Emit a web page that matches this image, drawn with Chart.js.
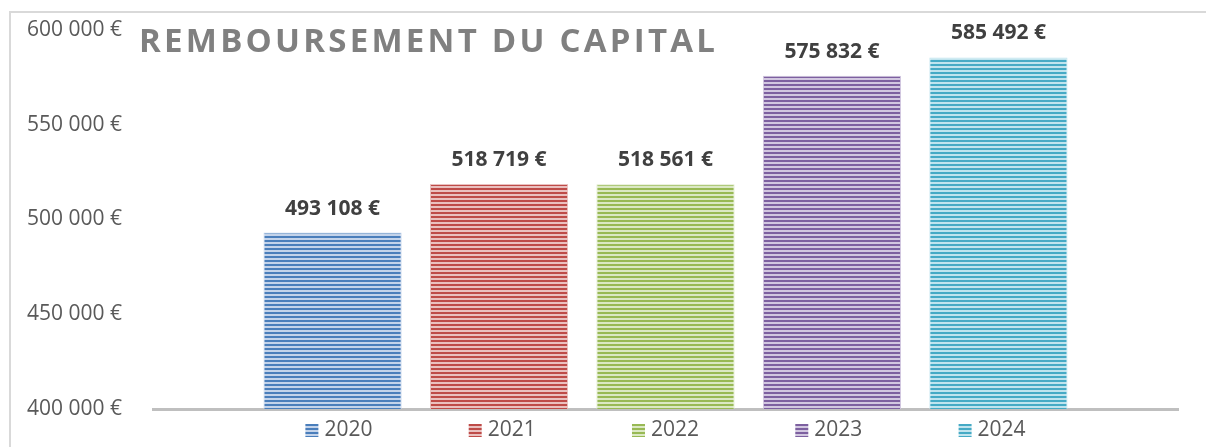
<!DOCTYPE html>
<html lang="fr">
<head>
  <meta charset="UTF-8" />
  <title>Remboursement du capital</title>
  <script src="https://cdn.jsdelivr.net/npm/chart.js"></script>
  <style>
    body {
      margin: 0;
      background: #fff;
    }

    .wrap {
      position: relative;
      width: 1206px;
      height: 447px;
    }

    .frame {
      position: absolute;
      left: 9px;
      top: 11px;
      right: 0;
      bottom: 0;
      border-top: 2px solid #d9d9d9;
      border-left: 2px solid #d9d9d9;
      pointer-events: none;
    }
  </style>
</head>
<body>
  <div class="wrap">
    <canvas id="capitalChart" width="1206" height="447"></canvas>
    <div class="frame"></div>
  </div>

  <script>
    const years = ['2020', '2021', '2022', '2023', '2024'];
    const amounts = [493108, 518719, 518561, 575832, 585492];
    const darkColors = ['#4a7ebb', '#be4b48', '#98b954', '#7d60a0', '#46aac5'];
    const lightColors = ['#c3d3ea', '#eac0bf', '#dbe8c4', '#d2c7e0', '#c0e4ee'];
    const yTicks = [400000, 450000, 500000, 550000, 600000];
    const title = 'REMBOURSEMENT DU CAPITAL';

    function euros(v) {
      return String(v).replace(/\B(?=(\d{3})+(?!\d))/g, ' ') + ' €';
    }

    // motif à rayures horizontales, 2px foncé / 2px clair
    function stripes(dark, light) {
      const c = document.createElement('canvas');
      c.width = 4;
      c.height = 4;
      const g = c.getContext('2d');
      g.fillStyle = light;
      g.fillRect(0, 0, 4, 4);
      g.fillStyle = dark;
      g.fillRect(0, 0, 4, 2);
      return g.createPattern(c, 'repeat');
    }

    const patterns = years.map((y, i) => stripes(darkColors[i], lightColors[i]));

    const datasets = years.map((y, i) => ({
      label: y,
      data: [amounts[i]],
      backgroundColor: patterns[i],
      borderColor: lightColors[i],
      borderWidth: 1,
      categoryPercentage: 0.812,
      barPercentage: 0.83
    }));

    const extras = {
      id: 'extras',
      afterDatasetsDraw(chart) {
        const ctx = chart.ctx;
        ctx.save();

        // étiquettes de valeurs
        ctx.font = 'bold 21px "Open Sans"';
        ctx.fillStyle = '#404040';
        ctx.textAlign = 'center';
        ctx.textBaseline = 'alphabetic';
        chart.data.datasets.forEach((ds, i) => {
          const bar = chart.getDatasetMeta(i).data[0];
          ctx.fillText(euros(ds.data[0]), bar.x, bar.y - 18);
        });

        // titre
        ctx.font = 'bold 33px "Open Sans"';
        ctx.fillStyle = '#808080';
        ctx.textAlign = 'left';
        const plain = ctx.measureText(title).width;
        const spacing = (576 - plain) / (title.length - 1);
        ctx.letterSpacing = spacing + 'px';
        ctx.fillText(title, 139, 52);
        ctx.letterSpacing = '0px';

        // légende
        ctx.font = '21px "Open Sans"';
        ctx.fillStyle = '#595959';
        ctx.textBaseline = 'middle';
        const step = 163.3;
        const center = (chart.chartArea.left + chart.chartArea.right) / 2;
        const itemW = 13 + 6 + ctx.measureText(years[0]).width;
        let x = center - (step * (years.length - 1)) / 2 - itemW / 2;
        const y = 430;
        years.forEach((yr, i) => {
          ctx.fillStyle = patterns[i];
          ctx.fillRect(x, y - 6, 13, 13);
          ctx.fillStyle = '#595959';
          ctx.fillText(yr, x + 19, y);
          x += step;
        });

        ctx.restore();
      }
    };

    new Chart(document.getElementById('capitalChart'), {
      type: 'bar',
      data: {
        labels: [''],
        datasets
      },
      options: {
        responsive: false,
        animation: false,
        layout: {
          padding: { top: 30, right: 28, bottom: 38, left: 0 }
        },
        plugins: {
          legend: { display: false },
          title: { display: false },
          tooltip: { enabled: false }
        },
        scales: {
          x: {
            grid: { display: false, drawTicks: false },
            border: { display: true, color: '#bfbfbf', width: 3 },
            ticks: { display: false },
            afterFit(scale) { scale.height = 0; }
          },
          y: {
            min: 400000,
            max: 600000,
            afterBuildTicks(scale) {
              scale.ticks = yTicks.map(v => ({ value: v }));
            },
            afterFit(scale) {
              scale.width = 153;
              scale.paddingTop = 0;
              scale.paddingBottom = 0;
            },
            grid: { display: false, drawTicks: false },
            border: { display: false },
            ticks: {
              padding: 31,
              color: '#595959',
              font: { family: 'Open Sans', size: 21 },
              callback: v => euros(v)
            }
          }
        }
      },
      plugins: [extras]
    });
  </script>
</body>
</html>
